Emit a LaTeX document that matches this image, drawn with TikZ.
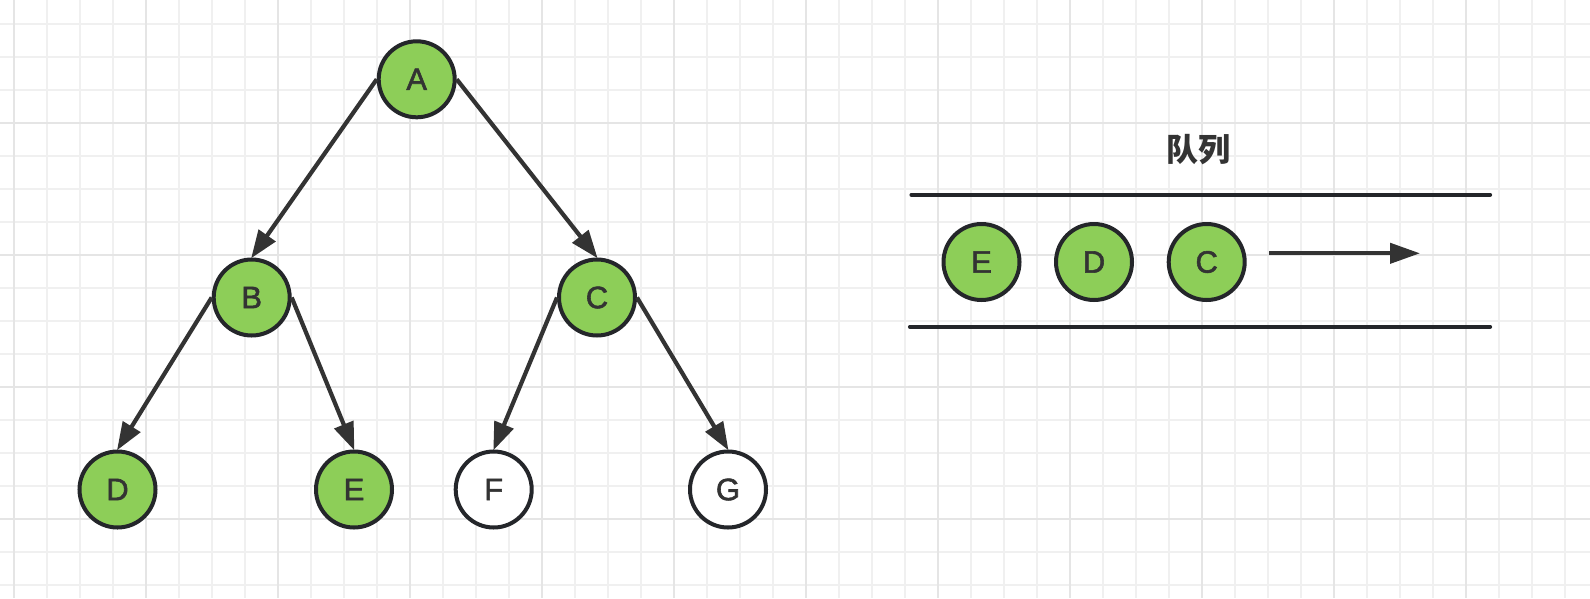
\documentclass[tikz,border=0pt]{standalone}
\usepackage{fontspec}
\setmainfont{Liberation Sans}
\newfontfamily\nodefont{Liberation Sans}[FakeBold=1.8]
\newfontfamily\cjk{Noto Sans CJK SC}
\usetikzlibrary{arrows.meta}
\definecolor{gminor}{RGB}{240,240,240}
\definecolor{gmajor}{RGB}{229,229,229}
\definecolor{nfill}{RGB}{141,206,88}
\definecolor{nline}{RGB}{36,38,42}
\definecolor{ecol}{RGB}{51,51,51}
\definecolor{tcol}{RGB}{51,51,51}
\tikzset{
  treenode/.style={circle, draw=nline, line width=4pt, minimum size=76pt, inner sep=0pt,
    font=\nodefont\fontsize{31}{36}\selectfont, text=tcol},
  filled/.style={treenode, fill=nfill},
  empty/.style={treenode, fill=white},
  edge/.style={draw=ecol, line width=4.2pt, -{Triangle[length=28pt,width=20pt]}, shorten >=-1pt},
  rail/.style={draw=nline, line width=4.2pt, line cap=round},
}
\begin{document}
\begin{tikzpicture}[x=1pt,y=-1pt]
\useasboundingbox (0,0) rectangle (1590,598);
\fill[white] (0,0) rectangle (1590,598);
% grid
\foreach \i in {0,...,48} {
  \pgfmathsetmacro\xx{14+33*\i}
  \draw[gminor, line width=1.6pt] (\xx,0) -- (\xx,598);
}
\foreach \i in {0,...,18} {
  \pgfmathsetmacro\yy{24+33*\i}
  \draw[gminor, line width=1.6pt] (0,\yy) -- (1590,\yy);
}
\foreach \i in {0,...,12} {
  \pgfmathsetmacro\xx{14+132*\i}
  \draw[gmajor, line width=1.8pt] (\xx,0) -- (\xx,598);
}
\foreach \i in {0,...,4} {
  \pgfmathsetmacro\yy{-9+132*\i}
  \draw[gmajor, line width=1.8pt] (0,\yy) -- (1590,\yy);
}
% tree
\node[filled] (A) at (416.7,79.3) {A};
\node[filled] (B) at (251.7,297.5) {B};
\node[filled] (C) at (597,297.5) {C};
\node[filled] (D) at (117.5,489.5) {D};
\node[filled] (E) at (354,489.5) {E};
\node[empty] (F) at (493.7,489.5) {F};
\node[empty] (G) at (728,489.5) {G};
\draw[edge] (A.west) -- (B.north);
\draw[edge] (A.east) -- (C.north);
\draw[edge] (B.west) -- (D.north);
\draw[edge] (B.east) -- (E.north);
\draw[edge] (C.west) -- (F.north);
\draw[edge] (C.east) -- (G.north);
% queue
\node[font=\cjk\bfseries\fontsize{32}{38}\selectfont, text=tcol] (title) at (1198,150) {队列};
\coordinate (t1) at (911.5,194.7);
\coordinate (t2) at (1490,194.7);
\coordinate (b1) at (910,326.7);
\coordinate (b2) at (1490,326.7);
\draw[rail] (t1) -- (t2);
\draw[rail] (b1) -- (b2);
\node[filled] (qE) at (981.5,262) {E};
\node[filled] (qD) at (1094,262) {D};
\node[filled] (qC) at (1206.7,262) {C};
\coordinate (as) at (1269,253.3);
\coordinate (ae) at (1420,253.3);
\draw[draw=ecol, line width=4.2pt, -{Triangle[length=30pt,width=20pt]}] (as) -- (ae);
\end{tikzpicture}
\end{document}
